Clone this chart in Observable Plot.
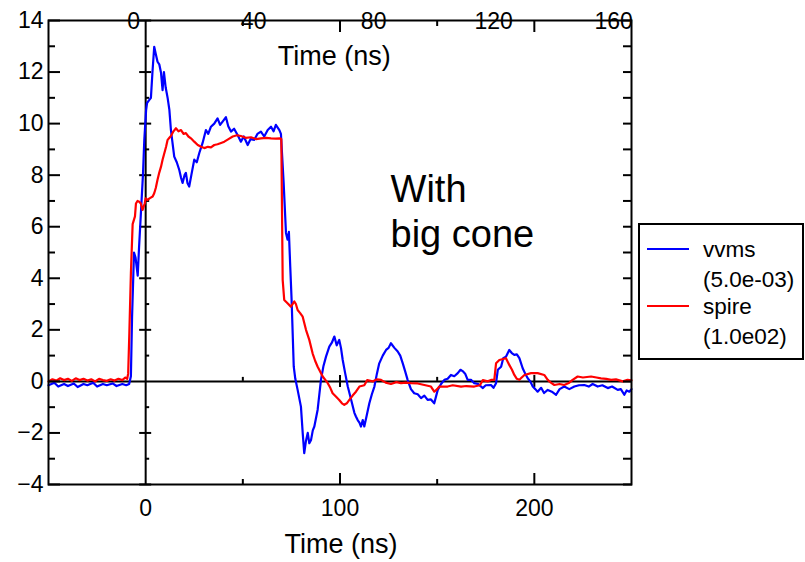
<!DOCTYPE html>
<html>
<head>
<meta charset="utf-8">
<script src="https://cdn.jsdelivr.net/npm/d3@7"></script>
<script src="https://cdn.jsdelivr.net/npm/@observablehq/plot@0.6"></script>
<style>
  body { margin: 0; background: #fff; font-family: "Liberation Sans", Arial, sans-serif; }
  #wrap { position: relative; width: 805px; height: 562px; overflow: hidden; }
  #legend { position: absolute; left: 0; top: 0; }
</style>
</head>
<body>
<div id="wrap"></div>
<script>
// ---- data ----
const vvmsT = [-50,-47,-45,-42,-40,-37,-35,-32,-30,-27,-25,-22,-20,-17,-15,-12,-10,-8.5,-7.6,-7,-6,-5.2,-4.1,-3.4,-2.4,-1.4,-0.7,0.2,0.7,1.7,2.7,3.5,4.4,5.2,6.1,7,7.9,8.7,9.4,10.3,11.3,12.2,13,14.7,16,17.3,18.2,19,20,20.7,21.5,22.4,23.5,25,26.3,27.6,29.3,31,32.2,33.6,35.3,37,38.3,39.6,41.3,42.5,43.9,45.5,47.3,49,50.5,52.5,54,55.9,57.5,59.3,61,62.8,64.5,65.8,67,68.8,69.6,71,72.2,73,73.7,74.4,75.1,76.2,77,78.2,79.9,80.8,81.6,82.5,83.4,84.2,85.1,86,86.8,88.5,90.2,91.5,92.8,94.5,95.8,97.1,98.3,99.6,100.5,101.4,102.7,104,105.7,107.4,108.2,109.1,110,110.8,111.7,112.5,113.8,115.1,116.4,117.7,119,120.2,122,123.7,125,126.2,128,129.7,131,132.3,133.5,134.8,136.5,138.2,140,141.7,143.4,145.1,146.8,148.5,150.3,152,153.7,155.4,157.1,158.8,160.6,162,163.1,164.4,165.7,167.4,169.1,171,172.6,173.4,175,177.7,179,180.3,181.2,182.9,184,185.4,187.1,188.4,189.7,191,192.3,194,195.3,196.6,197.9,199.2,200.5,201.7,203.5,205,206.9,209,211.2,213,215.4,218,220.6,223,225.7,228,230,232.6,235,237.8,240,242.9,244.5,246.3,247.5,248.9,250];
const vvmsV = [-0.15,-0.05,-0.2,-0.1,-0.18,-0.08,-0.22,-0.1,-0.15,-0.05,-0.2,-0.1,-0.15,-0.08,-0.18,-0.1,-0.15,-0.1,0.2,2.5,5.0,4.8,4.1,5.2,6.6,8.0,9.37,10.5,10.8,10.9,11.0,12.0,12.98,12.7,12.4,12.3,11.97,11.3,12.0,11.4,11.0,10.53,9.75,8.72,8.5,8.2,7.9,7.7,8.0,8.09,7.7,7.56,8.0,8.6,8.5,8.86,9.25,9.75,9.6,9.88,10.0,10.2,9.95,10.08,10.25,9.9,9.69,9.8,9.56,9.3,9.5,9.17,9.4,9.37,9.6,9.69,9.5,9.75,9.88,9.7,9.95,9.75,9.6,7.7,5.76,5.5,5.8,4.45,3.16,0.57,0.1,-0.33,-0.98,-2.0,-2.78,-2.3,-2.0,-2.4,-2.27,-1.9,-1.75,-1.1,0.06,0.6,0.96,1.35,1.5,1.74,1.4,1.61,1.3,0.83,0.3,-0.2,-0.7,-1.22,-1.36,-1.5,-1.6,-1.75,-1.5,-1.75,-1.3,-0.85,-0.5,-0.2,0.3,0.7,1.0,1.22,1.3,1.48,1.3,1.16,1.0,0.7,0.4,0.06,-0.3,-0.46,-0.5,-0.65,-0.55,-0.72,-0.7,-0.85,-0.33,-0.1,0.06,0.1,0.25,0.2,0.32,0.45,0.4,0.3,0.06,0.06,-0.07,-0.1,-0.2,-0.26,-0.15,-0.14,-0.25,-0.07,0.45,0.57,0.9,0.96,1.22,1.1,1.03,1.05,0.9,0.51,0.3,0.12,0.0,-0.2,-0.3,-0.4,-0.25,-0.45,-0.33,-0.4,-0.52,-0.3,-0.2,-0.3,-0.2,-0.15,-0.14,-0.2,-0.1,-0.2,-0.15,-0.26,-0.2,-0.33,-0.3,-0.52,-0.35,-0.4,-0.3];

const spireT = [-50,-48,-46,-44,-42,-40,-38,-36,-34,-32,-30,-28,-26,-24,-22,-20,-18,-16,-14,-12,-10.5,-9.5,-9,-8.4,-7.6,-6.7,-5.5,-5,-4.2,-3.3,-2.5,-1.6,-0.5,0,1,2,3.6,4.4,5.2,6.1,7,7.9,8.7,9.6,10.5,11.3,12.2,13,14.3,15.6,16.9,18.2,19.5,20.7,22,23.3,25,26.8,28.5,30.2,32,33.6,35.3,37,38.8,40.5,42.6,44.8,47,49,51.5,54.2,56.8,59.3,62,64.5,67,69.1,69.8,70.5,71.3,73,74.7,75.6,76.5,77.3,78.2,79.5,80.8,82.5,84.2,85.9,87.2,88.5,91.1,93.7,95,96.2,98,99.6,101,102.2,103.5,104.8,106.5,108.2,110,112.5,114,116.8,119,121.1,123.5,126.2,129,131.4,134,136.5,140,143.4,146.8,148.5,150,151.1,155.4,158,162.3,165,169.1,172,173.5,176,178,179.4,180.3,182,185.4,187.1,188.5,189.7,191,192.3,193.5,194.9,198.3,201.7,205.1,206.9,208.5,210.3,213,215.4,218,219.7,222.3,225,229.2,232,234.3,237,239.5,242,245.5,248,250];
const spireV = [0.0,0.08,0.03,0.12,0.05,0.1,0.02,0.12,0.05,0.1,0.03,0.08,0.0,0.1,0.05,0.02,0.08,0.03,0.1,0.05,0.15,0.1,0.3,1.88,4.2,6.1,6.4,6.9,7.0,6.97,6.9,6.65,6.9,7.1,7.04,7.1,7.17,7.3,7.5,7.82,8.1,8.33,8.6,8.85,9.1,9.37,9.45,9.52,9.7,9.82,9.7,9.75,9.6,9.63,9.5,9.43,9.3,9.17,9.1,9.05,9.1,9.08,9.17,9.2,9.25,9.3,9.4,9.5,9.55,9.52,9.45,9.47,9.4,9.43,9.45,9.43,9.42,9.43,9.4,3.94,3.16,3.03,2.9,3.0,3.1,3.0,2.77,2.65,2.51,2.0,1.61,1.09,0.8,0.57,0.19,-0.07,-0.25,-0.46,-0.6,-0.72,-0.85,-0.91,-0.85,-0.72,-0.55,-0.4,-0.2,-0.15,0.05,0.0,0.08,0.06,-0.05,-0.1,-0.03,-0.07,-0.05,-0.07,-0.08,-0.14,-0.2,-0.4,-0.3,-0.2,-0.2,-0.15,-0.2,-0.18,-0.2,-0.15,0.05,0.0,0.06,0.06,0.7,0.83,0.9,0.64,0.45,0.25,0.1,0.06,0.15,0.25,0.32,0.32,0.25,0.06,-0.05,-0.14,-0.1,-0.14,-0.05,0.06,0.19,0.15,0.19,0.15,0.12,0.1,0.06,0.08,0.0,0.06,0.04];

const yLabels = [-4,-2,0,2,4,6,8,10,12,14];
const yMinor = [-3,-1,1,3,5,7,9,11,13];
const yAll = [-4,-3,-2,-1,0,1,2,3,4,5,6,7,8,9,10,11,12,13,14];
const xLabels = [0,100,200];
const xMajor = [100,200];
const xMinor = [50,150];
const topLabels = [0,40,80,120,160];
// secondary top time axis: bottom-time = topOffset + topFactor * top-time
const topOffset = -6.2;
const topFactor = 1.544;

const seriesNames = ["vvms","spire"];
const seriesScales = ["(5.0e-03)","(1.0e02)"];
const seriesColors = ["#0000ff","#ff0000"];

const noteText = "With\nbig cone";
const axisTitle = "Time (ns)";

// ---- build tables ----
const vvms = vvmsT.map((t,i) => ({t, v: vvmsV[i]}));
const spire = spireT.map((t,i) => ({t, v: spireV[i]}));
const yMajorNZ = yLabels.filter(d => d !== 0);
const blank = () => "";
const FONT = "'Liberation Sans', Arial, Helvetica, sans-serif";
const TICK_FS = 23;
const SW = 2;

const chart = Plot.plot({
  width: 805,
  height: 562,
  marginLeft: 48,
  marginRight: 174,
  marginTop: 20,
  marginBottom: 78,
  x: {domain: [-50, 250], label: null},
  y: {domain: [-4, 14], label: null},
  style: {fontFamily: FONT, fontSize: "23px", color: "black", background: "white", overflow: "visible"},
  marks: [
    // zero lines
    Plot.ruleY([0], {stroke: "black", strokeWidth: SW}),
    Plot.ruleX([0], {stroke: "black", strokeWidth: SW}),
    // ticks on the vertical zero line
    Plot.ruleY(yMajorNZ, {y: d => d, x1: 0, x2: 0, insetLeft: -6, insetRight: -6, stroke: "black", strokeWidth: SW}),
    Plot.ruleY(yMinor, {y: d => d, x1: 0, x2: 0, insetLeft: 0, insetRight: -4, stroke: "black", strokeWidth: SW}),
    // ticks on the horizontal zero line
    Plot.ruleX(xMajor, {x: d => d, y1: 0, y2: 0, insetTop: -6, insetBottom: -6, stroke: "black", strokeWidth: SW}),
    Plot.ruleX(xMinor, {x: d => d, y1: 0, y2: 0, insetTop: -4, insetBottom: 0, stroke: "black", strokeWidth: SW}),
    // data
    Plot.line(vvms, {x: "t", y: "v", stroke: seriesColors[0], strokeWidth: 2.2}),
    Plot.line(spire, {x: "t", y: "v", stroke: seriesColors[1], strokeWidth: 2.2}),
    // left axis
    Plot.axisY(yLabels, {anchor: "left", tickSize: 0, tickPadding: 5, fontSize: TICK_FS, label: null}),
    Plot.axisY(yLabels, {anchor: "left", tickSize: 12, dx: 12, tickFormat: blank, label: null, strokeWidth: SW}),
    Plot.axisY(yMinor, {anchor: "left", tickSize: 7, dx: 7, tickFormat: blank, label: null, strokeWidth: SW}),
    // right axis (ticks only)
    Plot.axisY(yAll, {anchor: "right", tickSize: 9, dx: -9, tickFormat: blank, label: null, strokeWidth: SW}),
    // bottom axis
    Plot.axisX(xLabels, {anchor: "bottom", tickSize: 0, tickPadding: 15, fontSize: TICK_FS, label: null}),
    Plot.axisX(xMajor, {anchor: "bottom", tickSize: 11, dy: -11, tickFormat: blank, label: null, strokeWidth: SW}),
    Plot.axisX(xMinor, {anchor: "bottom", tickSize: 5, dy: -5, tickFormat: blank, label: null, strokeWidth: SW}),
    // top axis ticks
    Plot.axisX(xMajor, {anchor: "top", tickSize: 11, dy: 11, tickFormat: blank, label: null, strokeWidth: SW}),
    Plot.axisX(xMinor, {anchor: "top", tickSize: 5, dy: 5, tickFormat: blank, label: null, strokeWidth: SW}),
    // top secondary labels
    Plot.text(topLabels, {x: d => topOffset + topFactor * d, frameAnchor: "top", text: d => String(d), fontSize: TICK_FS, lineAnchor: "middle", dy: 1, fill: "black"}),
    // titles
    Plot.text([axisTitle], {x: 97, frameAnchor: "top", text: d => d, fontSize: 27, lineAnchor: "middle", dy: 36, fill: "black"}),
    Plot.text([axisTitle], {x: 100.5, frameAnchor: "bottom", text: d => d, fontSize: 27, lineAnchor: "middle", dy: 60, fill: "black"}),
    // annotation
    Plot.text([noteText], {x: 126, y: 8.2, text: d => d, fontSize: 38, lineAnchor: "top", textAnchor: "start", lineHeight: 1.18, fill: "black"}),
    // frame
    Plot.frame({stroke: "black", strokeWidth: SW})
  ]
});

const wrap = document.getElementById("wrap");
wrap.appendChild(chart);

// ---- legend (outside the plot frame, to the right) ----
const lg = d3.select(wrap).append("svg")
  .attr("id", "legend")
  .attr("width", 805).attr("height", 562)
  .style("pointer-events", "none")
  .style("font-family", FONT);
lg.append("rect")
  .attr("x", 639).attr("y", 224).attr("width", 164).attr("height", 135)
  .attr("fill", "white").attr("stroke", "black").attr("stroke-width", 2);
const rows = lg.selectAll("g.entry").data(seriesNames).join("g")
  .attr("class", "entry")
  .attr("transform", (d, i) => `translate(0, ${i * 57})`);
rows.append("line")
  .attr("x1", 647).attr("x2", 689).attr("y1", 249).attr("y2", 249)
  .attr("stroke", (d, i) => seriesColors[i]).attr("stroke-width", 2);
rows.append("text")
  .attr("x", 703).attr("y", 257).attr("font-size", 22.5).attr("fill", "black")
  .text(d => d);
rows.append("text")
  .attr("x", 703).attr("y", 287).attr("font-size", 22.5).attr("fill", "black")
  .text((d, i) => seriesScales[i]);
</script>
</body>
</html>
